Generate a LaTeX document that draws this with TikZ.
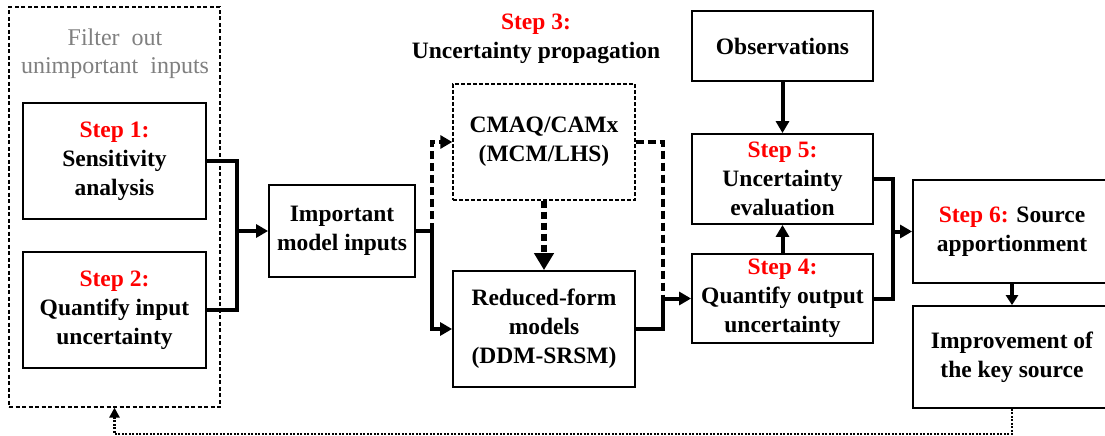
\documentclass[tikz,border=0pt]{standalone}
\usepackage{fontspec}
\setmainfont{Liberation Serif}
\usetikzlibrary{arrows.meta}
\definecolor{stepred}{RGB}{255,0,0}
\definecolor{filtgray}{RGB}{128,128,128}
\begin{document}
\begin{tikzpicture}[x=1pt,y=-1pt,
  box/.style={draw, line width=1.8pt, align=center, inner sep=0pt,
    font=\fontsize{23.5}{29}\selectfont\bfseries},
  dbox/.style={box, line width=1.4pt, dash pattern=on 4pt off 2pt},
  conn/.style={line width=4pt, line join=miter, line cap=butt},
  dconn/.style={conn, dash pattern=on 8pt off 4pt},
  tip/.style={-{Triangle[length=12pt,width=13pt]}},
  bigtip/.style={-{Triangle[length=17pt,width=19pt]}},
  fb/.style={line width=2.5pt, dash pattern=on 2pt off 1.5pt},
  lbl/.style={align=center, inner sep=0pt, font=\fontsize{23.5}{29}\selectfont\bfseries},
  st/.style={text=stepred}]
\path[use as bounding box, clip] (0,0) rectangle (1105,436);
\fill[white] (0,0) rectangle (1105,436);

% nodes
\node[draw, line width=1.2pt, dash pattern=on 4pt off 2.5pt, minimum width=211pt, minimum height=400pt, inner sep=0pt] (filt) at (114.5,207) {};
\node[align=center, inner sep=0pt, text=filtgray, font=\fontsize{24}{28}\selectfont] (ftxt) at (115,54) {Filter\ \ out\\unimportant\ \ inputs};
\node[box, minimum width=183pt, minimum height=116pt] (s1) at (114.5,161) {\textcolor{stepred}{Step 1:}\\Sensitivity\\analysis};
\node[box, minimum width=183pt, minimum height=116pt] (s2) at (114.5,310) {\textcolor{stepred}{Step 2:}\\Quantify input\\uncertainty};
\node[box, minimum width=146pt, minimum height=92pt] (imp) at (342,231) {Important\\model inputs};
\node[lbl] (s3) at (536,39) {\textcolor{stepred}{Step 3:}\\Uncertainty propagation};
\node[dbox, minimum width=182pt, minimum height=116pt] (cmaq) at (544,142) {CMAQ/CAMx\\(MCM/LHS)};
\node[box, minimum width=182pt, minimum height=116pt] (red) at (544,329) {Reduced-form\\models\\(DDM-SRSM)};
\node[box, minimum width=181pt, minimum height=70pt] (obs) at (782.5,46) {Observations};
\node[box, minimum width=181pt, minimum height=90pt] (s5) at (782.5,179) {\textcolor{stepred}{Step 5:}\\Uncertainty\\evaluation};
\node[box, minimum width=181pt, minimum height=89pt] (s4) at (782.5,298.5) {\textcolor{stepred}{Step 4:}\\Quantify output\\uncertainty};
\node[box, minimum width=198pt, minimum height=103pt] (s6) at (1012,231.5) {\textcolor{stepred}{Step 6:} Source\\apportionment};
\node[box, minimum width=198pt, minimum height=102pt] (imp2) at (1012,357) {Improvement of\\the key source};

% junctions
\coordinate (j1) at (237,231);
\coordinate (j2) at (432,231);
\coordinate (j3) at (663,298.5);
\coordinate (j4) at (893,231.5);
\coordinate (fb1) at (1012,434);

% connectors
\draw[conn] (s1.east) -| (j1) |- (s2.east);
\draw[conn, tip] (j1) -- (imp.west);
\draw[conn] (imp.east) -- (j2);
\draw[conn, tip] (j2) |- (red.west);
\draw[dconn, tip] (j2) |- (cmaq.west);
\draw[line width=6pt, dash pattern=on 7pt off 4pt, bigtip] (cmaq.south) -- (red.north);
\draw[dconn] (cmaq.east) -| (j3);
\draw[conn] (red.east) -| (j3);
\draw[conn, tip] (j3) -- (s4.west);
\draw[conn, tip] (obs.south) -- (s5.north);
\draw[conn, tip] (s4.north) -- (s5.south);
\draw[conn] (s5.east) -| (j4) |- (s4.east);
\draw[conn, tip] (j4) -- (s6.west);
\draw[conn, -{Triangle[length=10pt,width=12pt]}] (s6.south) -- (imp2.north);
\draw[fb, -{Triangle[length=10pt,width=10pt]}] (imp2.south) -- (fb1) -| (filt.south);
\end{tikzpicture}
\end{document}
